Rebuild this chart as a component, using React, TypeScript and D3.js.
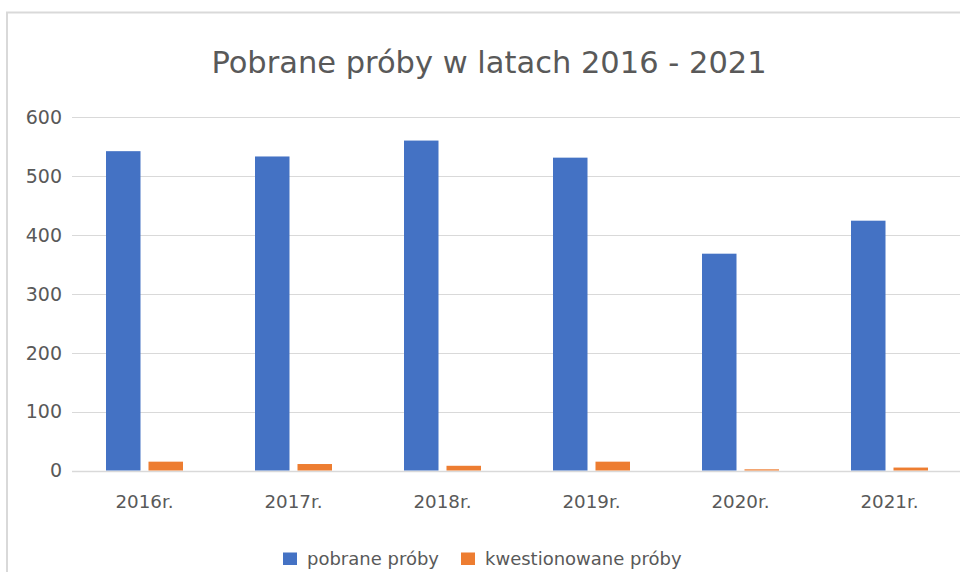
import React, {useRef, useEffect} from 'react';
import * as d3 from 'd3';

const years = ['2016r.', '2017r.', '2018r.', '2019r.', '2020r.', '2021r.'];
const pobrane = [542, 533, 560, 531, 368, 424];
const kwestionowane = [15, 11, 8, 15, 2, 5];
const seriesNames = ['pobrane próby', 'kwestionowane próby'];
const yTicks = [0, 100, 200, 300, 400, 500, 600];

const config = {
    w: 960,
    h: 572,
    font: '"DejaVu Sans", sans-serif',
    text: '#595959',
    grid: '#d9d9d9',
    colors: ['#4472c4', '#ed7d31']
};

export default function App() {
    const svgRef = useRef<SVGSVGElement>(null);

    useEffect(() => {
        const svg = d3.select(svgRef.current);
        svg.selectAll('*').remove();

        // frame of the chart (cut off at right and bottom)
        svg.append('rect')
            .attr('x', 7)
            .attr('y', 12.5)
            .attr('width', 1000)
            .attr('height', 600)
            .attr('fill', '#fff')
            .attr('stroke', config.grid)
            .attr('stroke-width', 2);

        svg.append('text')
            .attr('x', 489)
            .attr('y', 73)
            .attr('text-anchor', 'middle')
            .attr('font-family', config.font)
            .attr('font-size', 30.5)
            .attr('fill', config.text)
            .text('Pobrane próby w latach 2016 - 2021');

        const xScale = d3.scaleBand()
            .domain(years)
            .range([70, 964]);

        const yScale = d3.scaleLinear()
            .domain([0, 600])
            .range([470.5, 117]);

        // gridlines
        svg.append('g')
            .selectAll('line')
            .data(yTicks)
            .join('line')
            .attr('x1', 72)
            .attr('x2', 960)
            .attr('y1', d => Math.round(yScale(d)) + 0.5)
            .attr('y2', d => Math.round(yScale(d)) + 0.5)
            .attr('stroke', config.grid)
            .attr('stroke-width', d => d === 0 ? 1.5 : 1);

        // y labels
        svg.append('g')
            .selectAll('text')
            .data(yTicks)
            .join('text')
            .attr('x', 62)
            .attr('y', d => yScale(d))
            .attr('dy', '0.36em')
            .attr('text-anchor', 'end')
            .attr('font-family', config.font)
            .attr('font-size', 19)
            .attr('fill', config.text)
            .text(d => d);

        // grouped bars
        const barW = 34.5;
        const gap = 8;
        const groupW = barW * 2 + gap;
        const offset = (xScale.bandwidth() - groupW) / 2;
        const series = [pobrane, kwestionowane];

        series.forEach((vals, si) => {
            svg.append('g')
                .selectAll('rect')
                .data(vals)
                .join('rect')
                .attr('x', (d, i) => xScale(years[i])! + offset + si * (barW + gap))
                .attr('y', d => yScale(d))
                .attr('width', barW)
                .attr('height', d => yScale(0) - yScale(d))
                .attr('fill', config.colors[si]);
        });

        // x labels
        svg.append('g')
            .selectAll('text')
            .data(years)
            .join('text')
            .attr('x', d => xScale(d)! + xScale.bandwidth() / 2)
            .attr('y', 508)
            .attr('text-anchor', 'middle')
            .attr('font-family', config.font)
            .attr('font-size', 18.3)
            .attr('fill', config.text)
            .text(d => d);

        // legend
        const legendX = [283, 461];
        const legend = svg.append('g');
        seriesNames.forEach((name, i) => {
            legend.append('rect')
                .attr('x', legendX[i])
                .attr('y', 552.5)
                .attr('width', 14)
                .attr('height', 12.5)
                .attr('fill', config.colors[i]);
            legend.append('text')
                .attr('x', legendX[i] + 24)
                .attr('y', 565)
                .attr('font-family', config.font)
                .attr('font-size', 18)
                .attr('fill', config.text)
                .text(name);
        });
    }, []);

    return (
        <svg ref={svgRef} width={config.w} height={config.h}
            style={{position: 'absolute', left: 0, top: 0, background: '#fff'}} />
    );
}
